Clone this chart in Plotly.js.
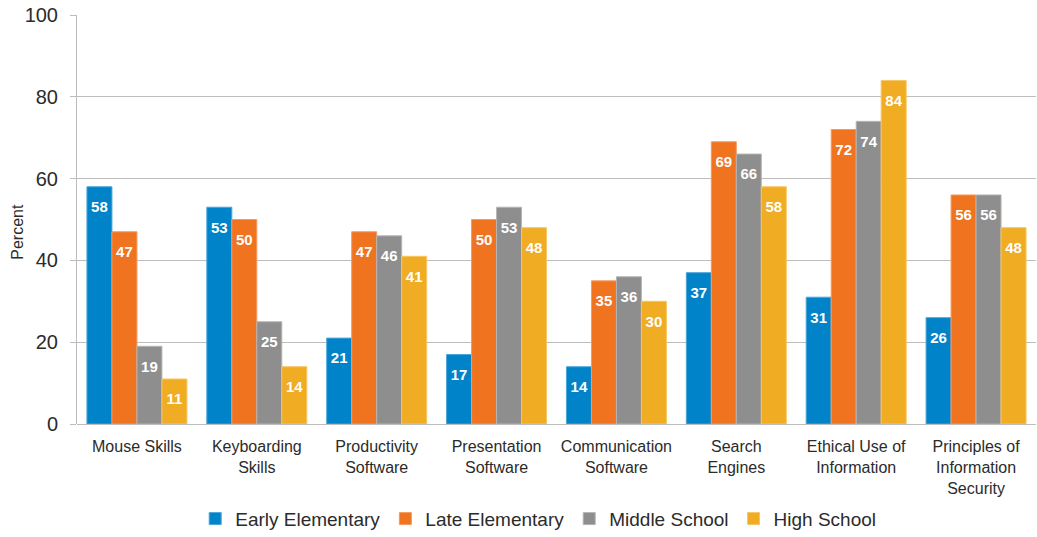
<!DOCTYPE html>
<html>
<head>
<meta charset="utf-8">
<script src="https://cdn.plot.ly/plotly-3.0.1.min.js"></script>
<style>html,body{margin:0;padding:0;background:#fff;}#chart{width:1037px;height:537px;}</style>
</head>
<body>
<div id="chart"></div>
<script>
const categories = ["Mouse Skills", "Keyboarding<br>Skills", "Productivity<br>Software", "Presentation<br>Software", "Communication<br>Software", "Search<br>Engines", "Ethical Use of<br>Information", "Principles of<br>Information<br>Security"];
const seriesNames = ["Early Elementary", "Late Elementary", "Middle School", "High School"];
const earlyElementary = [58, 53, 21, 17, 14, 37, 31, 26];
const lateElementary = [47, 50, 47, 50, 35, 69, 72, 56];
const middleSchool = [19, 25, 46, 53, 36, 66, 74, 56];
const highSchool = [11, 14, 41, 48, 30, 58, 84, 48];
const yTicks = [0, 20, 40, 60, 80, 100];

const colors = ["#0083C8", "#F07320", "#8E8E8E", "#F0AC22"];
const lineColors = ["#4AA6DA", "#F59A5E", "#B5B5B5", "#F5C665"];
const allSeries = [earlyElementary, lateElementary, middleSchool, highSchool];
const FONT = "Liberation Sans, Arial, sans-serif";

const barTraces = allSeries.map((vals, i) => ({
  type: "bar",
  name: seriesNames[i],
  x: categories,
  y: vals,
  marker: {color: colors[i], line: {color: lineColors[i], width: 1}},
  hoverinfo: "none"
}));

const labelTraces = allSeries.map((vals, i) => ({
  type: "scatter",
  mode: "markers+text",
  showlegend: false,
  x: categories,
  y: vals,
  text: vals.map(v => String(v)),
  textposition: "bottom center",
  textfont: {family: FONT, size: 15, color: "#ffffff", weight: "bold"},
  marker: {size: 21, color: "rgba(0,0,0,0)"},
  cliponaxis: false,
  hoverinfo: "none"
}));

const layout = {
  width: 1037,
  height: 537,
  margin: {l: 77, r: 1, t: 15, b: 113},
  paper_bgcolor: "#ffffff",
  plot_bgcolor: "#ffffff",
  barmode: "group",
  scattermode: "group",
  bargap: 0.166,
  bargroupgap: 0,
  font: {family: FONT, color: "#2b2b2b"},
  showlegend: true,
  legend: {
    orientation: "h",
    xref: "container", yref: "container",
    x: 0.519, xanchor: "center",
    y: 0.034, yanchor: "middle",
    font: {size: 19, color: "#2b2b2b"},
    itemwidth: 30,
    traceorder: "normal"
  },
  xaxis: {
    type: "category",
    tickfont: {size: 16, color: "#2b2b2b"},
    ticklabelstandoff: 11,
    showline: false,
    ticks: "",
    showgrid: false,
    zeroline: false,
    fixedrange: true
  },
  yaxis: {
    range: [0, 100],
    tickvals: yTicks,
    ticktext: yTicks.map(String),
    tickfont: {size: 20, color: "#2b2b2b"},
    ticklabelstandoff: 8,
    showgrid: true,
    gridcolor: "#BDBDBD",
    gridwidth: 1,
    ticks: "outside",
    ticklen: 6,
    tickcolor: "#BDBDBD",
    showline: true,
    linecolor: "#BDBDBD",
    zeroline: true,
    zerolinecolor: "#BDBDBD",
    fixedrange: true
  },
  annotations: [{
    text: "Percent",
    xref: "paper", yref: "paper",
    x: 0, y: 0.47,
    xanchor: "center", yanchor: "middle",
    xshift: -59,
    textangle: -90,
    showarrow: false,
    font: {family: FONT, size: 16, color: "#2b2b2b"}
  }]
};

Plotly.newPlot("chart", barTraces.concat(labelTraces), layout, {displayModeBar: false, staticPlot: true});
</script>
</body>
</html>
